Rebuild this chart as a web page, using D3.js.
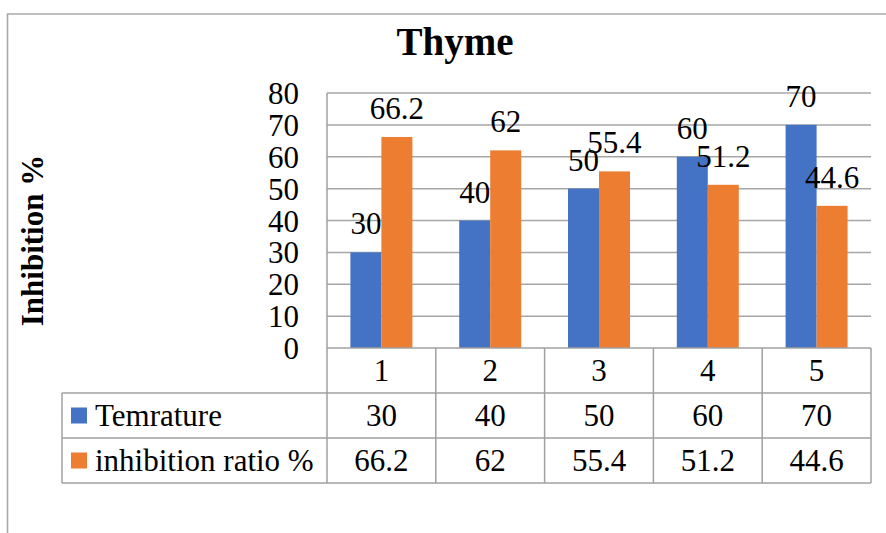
<!DOCTYPE html>
<html>
<head>
<meta charset="utf-8">
<script src="https://cdn.jsdelivr.net/npm/d3@7"></script>
<style>
  html, body { margin: 0; padding: 0; background: #fff; }
  svg { display: block; }
  text { font-family: "Liberation Serif", "Times New Roman", serif; fill: #000; }
</style>
</head>
<body>
<svg id="chart" width="886" height="533"></svg>
<script>
// Chart data
const categories = ["1", "2", "3", "4", "5"];
const seriesNames = ["Temrature", "inhibition ratio %"];
const temperature = [30, 40, 50, 60, 70];
const inhibitionRatio = [66.2, 62, 55.4, 51.2, 44.6];
const yTicks = [0, 10, 20, 30, 40, 50, 60, 70, 80];
const seriesColors = ["#4472c4", "#ed7d31"];
const titleText = "Thyme";
const yAxisTitle = "Inhibition %";

const seriesValues = [temperature, inhibitionRatio];

const W = 886, H = 533;
const plot = { left: 327, right: 871, top: 93, bottom: 348 };
const rowH = 45;
const tableLeft = 62;
const gridColor = "#a6a6a6";
const fontSize = 31;

const svg = d3.select("#chart");

// Outer chart frame (top and left edges visible)
svg.append("path")
  .attr("d", `M7.5,${H} L7.5,14 L${W},14`)
  .attr("fill", "none")
  .attr("stroke", "#a9a9a9")
  .attr("stroke-width", 1.6);

// Scales
const x = d3.scaleBand().domain(categories).range([plot.left, plot.right]).padding(0);
const xs = d3.scaleBand().domain(d3.range(seriesNames.length))
  .range([0, x.bandwidth()]).paddingInner(0).paddingOuter(0.755);
const y = d3.scaleLinear().domain([0, 80]).range([plot.bottom, plot.top]);

// Title
svg.append("text")
  .attr("x", 455).attr("y", 55)
  .attr("text-anchor", "middle")
  .style("font-size", "39px").style("font-weight", "bold")
  .text(titleText);

// Y axis title
svg.append("text")
  .attr("transform", `translate(43,${(plot.top + plot.bottom) / 2 + 20}) rotate(-90)`)
  .attr("text-anchor", "middle")
  .style("font-size", "31px").style("font-weight", "bold")
  .text(yAxisTitle);

// Gridlines
svg.append("g").selectAll("line")
  .data(yTicks.filter(d => d > 0))
  .join("line")
  .attr("x1", plot.left).attr("x2", plot.right)
  .attr("y1", d => y(d)).attr("y2", d => y(d))
  .attr("stroke", gridColor).attr("stroke-width", 1.5);

// Y axis tick labels
const yAxis = d3.axisLeft(y).tickValues(yTicks).tickSize(0).tickPadding(28);
const gy = svg.append("g").attr("transform", `translate(${plot.left},0)`).call(yAxis);
gy.select(".domain").remove();
gy.selectAll("text")
  .style("font-size", fontSize + "px")
  .style("font-family", '"Liberation Serif", "Times New Roman", serif')
  .attr("dy", "0.34em");

// Bars
const groups = svg.append("g").selectAll("g")
  .data(categories)
  .join("g")
  .attr("transform", d => `translate(${x(d)},0)`);

groups.selectAll("rect")
  .data((c, i) => seriesValues.map((vals, s) => ({ s, v: vals[i] })))
  .join("rect")
  .attr("x", d => xs(d.s))
  .attr("width", xs.bandwidth())
  .attr("y", d => y(d.v))
  .attr("height", d => y(0) - y(d.v))
  .attr("fill", d => seriesColors[d.s]);

// Data labels
groups.selectAll("text.lbl")
  .data((c, i) => seriesValues.map((vals, s) => ({ s, v: vals[i] })))
  .join("text")
  .attr("class", "lbl")
  .attr("x", d => xs(d.s) + xs.bandwidth() / 2)
  .attr("y", d => y(d.v) - 18)
  .attr("text-anchor", "middle")
  .style("font-size", fontSize + "px")
  .text(d => d.v);

// Data table
const tbl = svg.append("g").attr("stroke", "#a0a0a0").attr("stroke-width", 1.5).attr("fill", "none");
const tableBottom = plot.bottom + rowH * 3;
// Horizontal lines
tbl.append("line").attr("x1", plot.left).attr("x2", plot.right).attr("y1", plot.bottom).attr("y2", plot.bottom);
for (let r = 1; r <= 3; r++) {
  tbl.append("line").attr("x1", tableLeft).attr("x2", plot.right)
    .attr("y1", plot.bottom + rowH * r).attr("y2", plot.bottom + rowH * r);
}
// Left plot edge and table category dividers
tbl.append("line").attr("x1", plot.left).attr("x2", plot.left).attr("y1", plot.top).attr("y2", tableBottom);
categories.forEach(c => {
  tbl.append("line").attr("x1", x(c) + x.bandwidth()).attr("x2", x(c) + x.bandwidth())
    .attr("y1", plot.bottom).attr("y2", tableBottom);
});
tbl.append("line").attr("x1", tableLeft).attr("x2", tableLeft)
  .attr("y1", plot.bottom + rowH).attr("y2", tableBottom);

// Category labels row
svg.append("g").selectAll("text")
  .data(categories)
  .join("text")
  .attr("x", d => x(d) + x.bandwidth() / 2)
  .attr("y", plot.bottom + rowH / 2 + 10)
  .attr("text-anchor", "middle")
  .style("font-size", fontSize + "px")
  .text(d => d);

// Series rows
seriesNames.forEach((name, s) => {
  const rowMid = plot.bottom + rowH * (s + 1) + rowH / 2;
  svg.append("rect")
    .attr("x", 71).attr("y", rowMid - 8)
    .attr("width", 16).attr("height", 16)
    .attr("fill", seriesColors[s]);
  svg.append("text")
    .attr("x", 95).attr("y", rowMid + 10)
    .style("font-size", fontSize + "px")
    .text(name);
  svg.append("g").selectAll("text")
    .data(categories)
    .join("text")
    .attr("x", d => x(d) + x.bandwidth() / 2)
    .attr("y", rowMid + 10)
    .attr("text-anchor", "middle")
    .style("font-size", fontSize + "px")
    .text((d, i) => seriesValues[s][i]);
});
</script>
</body>
</html>
